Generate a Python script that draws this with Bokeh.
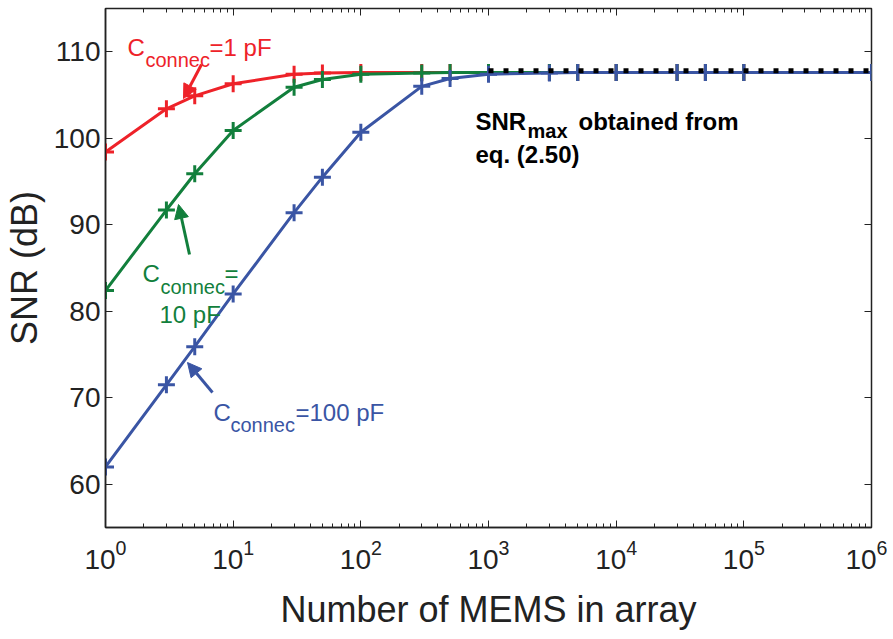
from bokeh.plotting import figure
from bokeh.models import (Range1d, FixedTicker, LinearAxis, Label, Arrow,
                          NormalHead, CustomJSTickFormatter)
from bokeh.embed import file_html
from bokeh.resources import INLINE

# ---------------- data ----------------
n_mems = [1, 3, 5, 10, 30, 50, 100, 300, 500, 1000, 3000, 5000,
          1e4, 3e4, 5e4, 1e5, 1e6]
snr_1pF = [98.4, 103.4, 104.9, 106.3, 107.4, 107.55, 107.6, 107.6, 107.6, 107.6,
           107.6, 107.6, 107.6, 107.6, 107.6, 107.6, 107.6]
snr_10pF = [82.4, 91.7, 95.9, 100.9, 105.9, 106.8, 107.4, 107.55, 107.6, 107.6,
            107.6, 107.6, 107.6, 107.6, 107.6, 107.6, 107.6]
snr_100pF = [62.0, 71.5, 75.9, 82.0, 91.4, 95.5, 100.7, 106.0, 106.9, 107.4,
             107.55, 107.6, 107.6, 107.6, 107.6, 107.6, 107.6]
snr_max_x = [1e3, 1e6]
snr_max_y = [107.8, 107.8]

x_major = [1, 10, 100, 1000, 1e4, 1e5, 1e6]
x_minor = [d * m for d in x_major[:-1] for m in range(2, 10)]
y_ticks = [60, 70, 80, 90, 100, 110]

RED, GREEN, BLUE = "#EE2229", "#127F3C", "#3A55A4"
AX = "#222222"
FONT = "Liberation Sans"

# ---------------- figure ----------------
p = figure(x_axis_type="log", x_range=Range1d(1, 1e6), y_range=Range1d(55, 115),
           frame_width=766, frame_height=519,
           min_border_left=91, min_border_right=16, min_border_top=8, min_border_bottom=96,
           output_backend="svg", toolbar_location=None, background_fill_color="white",
           border_fill_color="white", outline_line_color=AX, outline_line_width=1.5)
p.grid.visible = False

for ys, col in [(snr_1pF, RED), (snr_10pF, GREEN), (snr_100pF, BLUE)]:
    p.line(n_mems, ys, line_color=col, line_width=3)
    p.scatter(n_mems, ys, marker="cross", size=17, line_color=col, line_width=3)

p.line(snr_max_x, snr_max_y, line_color="black", line_width=5, line_dash="5 10")

# axes
xa = p.xaxis[0]
xa.ticker = FixedTicker(ticks=x_major, minor_ticks=x_minor)
ya = p.yaxis[0]
ya.ticker = FixedTicker(ticks=y_ticks)
for ax in (xa, ya):
    ax.axis_line_color = AX
    ax.axis_line_width = 1.5
    ax.major_tick_in = 7
    ax.major_tick_out = 0
    ax.minor_tick_in = 4
    ax.minor_tick_out = 0
    ax.major_tick_line_color = AX
    ax.minor_tick_line_color = AX
    ax.major_label_text_font = FONT
    ax.major_label_text_font_size = "28px"
    ax.major_label_text_color = AX
    ax.axis_label_text_font = FONT
    ax.axis_label_text_font_style = "normal"
    ax.axis_label_text_color = AX
xa.major_label_standoff = 12
xa.axis_label = "Number of MEMS in array"
xa.axis_label_text_font_size = "36px"
xa.axis_label_standoff = 17
ya.major_label_standoff = 5
ya.minor_tick_line_color = None
ya.axis_label = "SNR (dB)"
ya.axis_label_text_font_size = "36px"
ya.axis_label_standoff = 6

top = LinearAxis(ticker=FixedTicker(ticks=x_major, minor_ticks=x_minor),
                 formatter=CustomJSTickFormatter(code="return ''"),
                 major_label_text_font_size="2px", major_label_standoff=0,
                 major_tick_in=7, major_tick_out=0, minor_tick_in=4, minor_tick_out=0,
                 axis_line_color=None, major_tick_line_color=AX, minor_tick_line_color=AX)
p.add_layout(top, "above")
right = LinearAxis(ticker=FixedTicker(ticks=y_ticks),
                   formatter=CustomJSTickFormatter(code="return ''"),
                   major_label_text_font_size="2px", major_label_standoff=0,
                   major_tick_in=7, major_tick_out=0, minor_tick_line_color=None,
                   axis_line_color=None, major_tick_line_color=AX)
p.add_layout(right, "right")

# ---------------- annotations (reference pixel helper, relative to frame) ----------------
FL, FB = 103, 528


def lab(px, py, text, size, color, bold=False):
    p.add_layout(Label(x=px - FL, y=FB - py, x_units="screen", y_units="screen",
                       text=text, text_font=FONT, text_font_size=f"{size}px",
                       text_color=color, text_baseline="alphabetic", text_align="left",
                       text_font_style="bold" if bold else "normal"))


def arrow(x0, y0, x1, y1, color):
    p.add_layout(Arrow(x_start=x0 - FL, y_start=FB - y0, x_end=x1 - FL, y_end=FB - y1,
                       start_units="screen", end_units="screen",
                       line_color=color, line_width=3,
                       end=NormalHead(size=14, fill_color=color, line_color=color,
                                      line_width=1)))


# red
lab(125, 48, "C", 24, RED)
lab(143, 60, "connec", 20, RED)
lab(207, 48, "=1 pF", 24, RED)
arrow(199, 65, 181, 99, RED)
# green
lab(140, 274, "C", 24, GREEN)
lab(158, 287, "connec", 20, GREEN)
lab(222, 274, "=", 24, GREEN)
lab(157, 315, "10 pF", 24, GREEN)
arrow(187, 255, 176, 205, GREEN)
# blue
lab(211, 413, "C", 24, BLUE)
lab(228, 425, "connec", 20, BLUE)
lab(293, 413, "=100 pF", 24, BLUE)
arrow(210, 393, 185, 363, BLUE)
# black
lab(473, 122, "SNR", 24, "black", True)
lab(525, 131, "max", 20, "black", True)
lab(576, 122, "obtained from", 24, "black", True)
lab(473, 155, "eq. (2.50)", 24, "black", True)

open("out.html", "w").write(file_html(p, INLINE))
